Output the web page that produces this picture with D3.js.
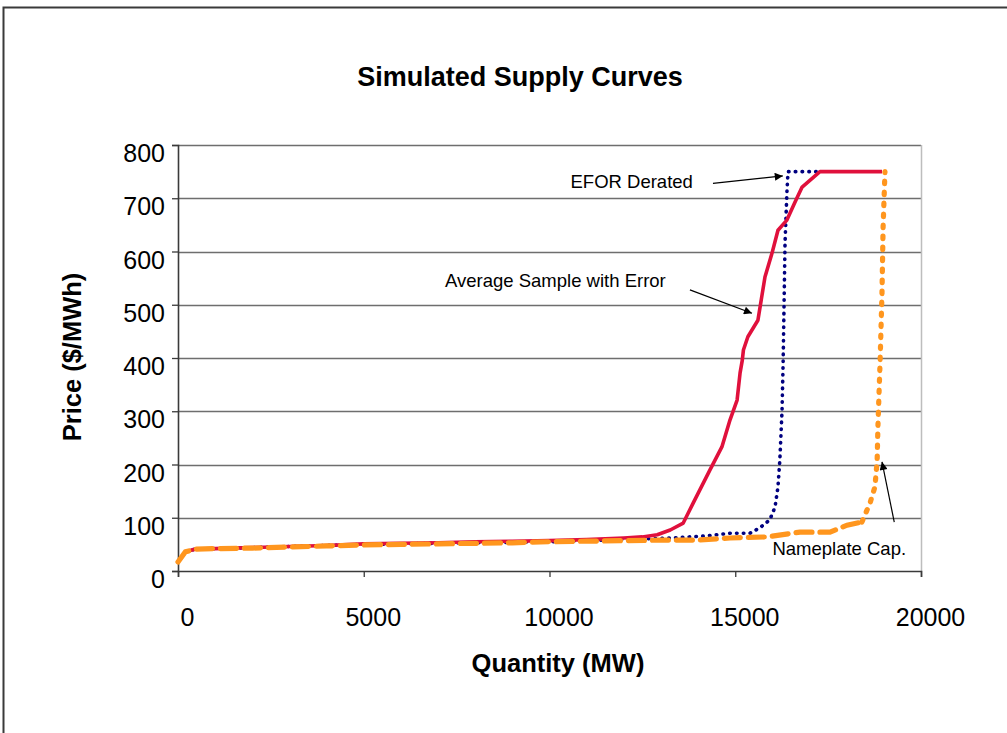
<!DOCTYPE html>
<html>
<head>
<meta charset="utf-8">
<script src="https://cdn.jsdelivr.net/npm/d3@7"></script>
<style>
  html, body { margin: 0; padding: 0; background: #fff; }
  svg { display: block; font-family: "Liberation Sans", Arial, sans-serif; }
</style>
</head>
<body>
<svg id="chart" width="1007" height="733"></svg>
<script>
// ---- DATA ----
const chartTitle = "Simulated Supply Curves";
const xAxisTitle = "Quantity (MW)";
const yAxisTitle = "Price ($/MWh)";
const xTicks = [0, 5000, 10000, 15000, 20000];
const yTicks = [0, 100, 200, 300, 400, 500, 600, 700, 800];

// Average Sample with Error (quantity MW, price $/MWh)
const avgSampleQ = [0, 200, 450, 1000, 2000, 3000, 4000, 5000, 6000, 7000, 8000, 9000, 10000, 11000, 12000, 12500, 12900, 13250, 13600, 13870, 14320, 14640, 14860, 15050, 15130, 15190, 15220, 15340, 15610, 15800, 15990, 16150, 16390, 16610, 16800, 17280, 18950];
const avgSampleP = [17, 36, 41, 42, 44, 46, 48, 51, 52, 53, 55, 56, 57, 59, 62, 64, 68, 77, 90, 128, 190, 233, 284, 321, 372, 396, 415, 440, 471, 552, 597, 640, 659, 693, 721, 750, 750];

// EFOR Derated
const eforQ = [0, 200, 450, 1000, 2000, 3000, 4000, 5000, 6000, 7000, 8000, 9000, 10000, 11000, 12000, 13300, 14240, 14860, 15400, 15660, 15930, 16070, 16150, 16200, 16260, 16290, 16340, 16390, 16420, 17300];
const eforP = [17, 36, 41, 42, 44, 46, 48, 50, 51, 52, 53, 54, 55, 57, 59, 62, 66, 71, 71, 81, 96, 120, 158, 208, 302, 396, 616, 710, 750, 750];

// Nameplate Capacity
const nameplateQ = [0, 200, 450, 1000, 2000, 3000, 4000, 5000, 6000, 7000, 8000, 9000, 10000, 11000, 12000, 13000, 14000, 14860, 15850, 16740, 17550, 18010, 18410, 18630, 18760, 18820, 18840, 18900, 18950, 18980, 19030];
const nameplateP = [17, 36, 41, 42, 43, 45, 47, 49, 50, 51, 52, 53, 55, 56, 57, 58, 58, 62, 64, 73, 73, 86, 92, 128, 158, 208, 270, 396, 522, 646, 750];
const nameplateRiseFrom = 18410; // quantity where the near-vertical rise begins

// Annotations: label, text anchor point (data units), arrow from/to (data units)
const annoLabels = ["EFOR Derated", "Average Sample with Error", "Nameplate Cap."];
const annoTextQ = [13860, 13130, 16000];
const annoTextP = [719, 533, 30];
const annoFromQ = [14400, 13780, 19280];
const annoFromP = [728, 528, 92];
const annoToQ = [16280, 15450, 18950];
const annoToP = [742, 484, 205];

// ---- DRAW ----
const svg = d3.select("#chart");
const W = 1007, H = 733;
const plot = { left: 178, right: 921, top: 145, bottom: 571 };

const x = d3.scaleLinear().domain([0, 20000]).range([plot.left, plot.right]);
const y = d3.scaleLinear().domain([0, 800]).range([plot.bottom, plot.top]);

const defs = svg.append("defs");
defs.append("marker")
  .attr("id", "arrow").attr("viewBox", "0 0 10 10")
  .attr("refX", 10).attr("refY", 5)
  .attr("markerWidth", 13).attr("markerHeight", 8)
  .attr("markerUnits", "userSpaceOnUse")
  .attr("orient", "auto")
  .append("path").attr("d", "M0,0 L10,5 L0,10 Z").attr("fill", "#000");

// outer frame
svg.append("rect").attr("x", 3.5).attr("y", 7.5).attr("width", W).attr("height", H)
  .attr("fill", "#fff").attr("stroke", "#3a3a3a").attr("stroke-width", 2);

// title
svg.append("text").attr("x", 520).attr("y", 86).attr("text-anchor", "middle")
  .attr("font-size", 27).attr("font-weight", "bold").attr("fill", "#000").text(chartTitle);

// gridlines
svg.append("g").selectAll("line").data(yTicks.filter(d => d > 0)).join("line")
  .attr("x1", plot.left).attr("x2", plot.right)
  .attr("y1", d => Math.round(y(d)) + 0.5).attr("y2", d => Math.round(y(d)) + 0.5)
  .attr("stroke", "#6e6e6e").attr("stroke-width", 1.6);

// right plot border
svg.append("line").attr("x1", plot.right + 0.5).attr("x2", plot.right + 0.5)
  .attr("y1", plot.top).attr("y2", plot.bottom)
  .attr("stroke", "#bdbdbd").attr("stroke-width", 1.5);

// axes
const yAxis = d3.axisLeft(y).tickValues(yTicks).tickSize(6).tickPadding(7).tickFormat(d3.format("d"));
const gy = svg.append("g").attr("transform", `translate(${plot.left},0)`).call(yAxis);
gy.select(".domain").attr("stroke", "#3a3a3a").attr("stroke-width", 1.6);
gy.selectAll(".tick line").attr("stroke", "#3a3a3a").attr("stroke-width", 1.3);
gy.selectAll(".tick text").attr("font-size", 25).attr("font-family", "Liberation Sans, Arial, sans-serif")
  .attr("fill", "#000").attr("dy", "0.66em");

const xAxis = d3.axisBottom(x).tickValues(xTicks).tickSize(6).tickPadding(31).tickFormat(d3.format("d"));
const gx = svg.append("g").attr("transform", `translate(0,${plot.bottom})`).call(xAxis);
gx.select(".domain").attr("stroke", "#3a3a3a").attr("stroke-width", 1.6);
gx.selectAll(".tick line").attr("stroke", "#3a3a3a").attr("stroke-width", 1.3);
gx.selectAll(".tick text").attr("font-size", 25).attr("font-family", "Liberation Sans, Arial, sans-serif")
  .attr("fill", "#000").attr("dx", 9);

// axis titles
svg.append("text").attr("x", 558).attr("y", 672).attr("text-anchor", "middle")
  .attr("font-size", 25.5).attr("font-weight", "bold").attr("fill", "#000").text(xAxisTitle);
svg.append("text").attr("transform", "translate(81,357) rotate(-90)").attr("text-anchor", "middle")
  .attr("font-size", 25.5).attr("font-weight", "bold").attr("fill", "#000").text(yAxisTitle);

// series
const line = d3.line().x(d => x(d[0])).y(d => y(d[1]));
const efor = eforQ.map((q, i) => [q, eforP[i]]);
const avg = avgSampleQ.map((q, i) => [q, avgSampleP[i]]);
const name = nameplateQ.map((q, i) => [q, nameplateP[i]]);
const nameFlat = name.filter(d => d[0] <= nameplateRiseFrom);
const nameRise = name.filter(d => d[0] >= nameplateRiseFrom);

svg.append("path").datum(efor).attr("d", line).attr("fill", "none")
  .attr("stroke", "#000080").attr("stroke-width", 3.6)
  .attr("stroke-linecap", "round").attr("stroke-dasharray", "0.5,6.3");

svg.append("path").datum(avg).attr("d", line).attr("fill", "none")
  .attr("stroke", "#e0103c").attr("stroke-width", 3.6).attr("stroke-linejoin", "round");

svg.append("path").datum(nameFlat).attr("d", line).attr("fill", "none")
  .attr("stroke", "#ff961e").attr("stroke-width", 5.2)
  .attr("stroke-linecap", "round").attr("stroke-dasharray", "16,8");
svg.append("path").datum(nameRise).attr("d", line).attr("fill", "none")
  .attr("stroke", "#ff961e").attr("stroke-width", 5.2)
  .attr("stroke-linecap", "round").attr("stroke-dasharray", "2.5,8.5");

// annotations
const annG = svg.append("g");
annoLabels.forEach((lab, i) => {
  annG.append("text")
    .attr("x", x(annoTextQ[i])).attr("y", y(annoTextP[i]))
    .attr("text-anchor", i === 2 ? "start" : "end")
    .attr("font-size", 18.5).attr("fill", "#000").text(lab);
  annG.append("line")
    .attr("x1", x(annoFromQ[i])).attr("y1", y(annoFromP[i]))
    .attr("x2", x(annoToQ[i])).attr("y2", y(annoToP[i]))
    .attr("stroke", "#000").attr("stroke-width", 1.2)
    .attr("marker-end", "url(#arrow)");
});
</script>
</body>
</html>
